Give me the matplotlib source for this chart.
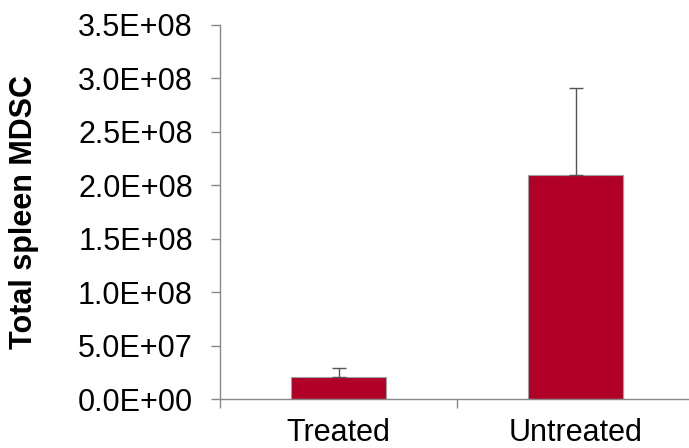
import matplotlib.pyplot as plt
import matplotlib.ticker as ticker

plt.rcParams["font.family"] = ["Liberation Sans", "DejaVu Sans"]

groups = ["Treated", "Untreated"]
mdsc = [2.09e7, 2.10e8]
mdsc_err = [7.8e6, 8.1e7]

fig = plt.figure(figsize=(6.89, 4.48), dpi=100)
ax = fig.add_axes([220 / 689, 49 / 448, 474 / 689, 374 / 448])

xs = range(len(groups))
ax.bar(xs, mdsc, width=0.405, color="#b00028", edgecolor="#a0a0a0", linewidth=0.8,
       yerr=[[0, 0], mdsc_err], ecolor="#555555", capsize=5,
       error_kw={"elinewidth": 1.0, "capthick": 1.0})

ax.set_xlim(-0.5, 1.5)
ax.set_ylim(0, 3.5e8)
ax.yaxis.set_major_locator(ticker.MultipleLocator(5e7))
ax.yaxis.set_major_formatter(ticker.FuncFormatter(
    lambda v, p: "{:.1E}".format(v)))

ax.set_xticks(list(xs))
ax.set_xticklabels(groups)
ax.set_xticks([-0.5, 0.5, 1.5], minor=True)
ax.tick_params(axis="x", which="major", length=0, labelsize=22, pad=14)
ax.tick_params(axis="x", which="minor", length=6.5, color="#888888", width=1)
ax.tick_params(axis="y", length=6.5, color="#888888", width=1, labelsize=22, pad=13)

for s in ["top", "right"]:
    ax.spines[s].set_visible(False)
for s in ["left", "bottom"]:
    ax.spines[s].set_color("#888888")
    ax.spines[s].set_linewidth(1)

ax.set_ylabel("Total spleen MDSC", fontsize=22, fontweight="bold", labelpad=28)

fig.savefig("out.png", dpi=100)
